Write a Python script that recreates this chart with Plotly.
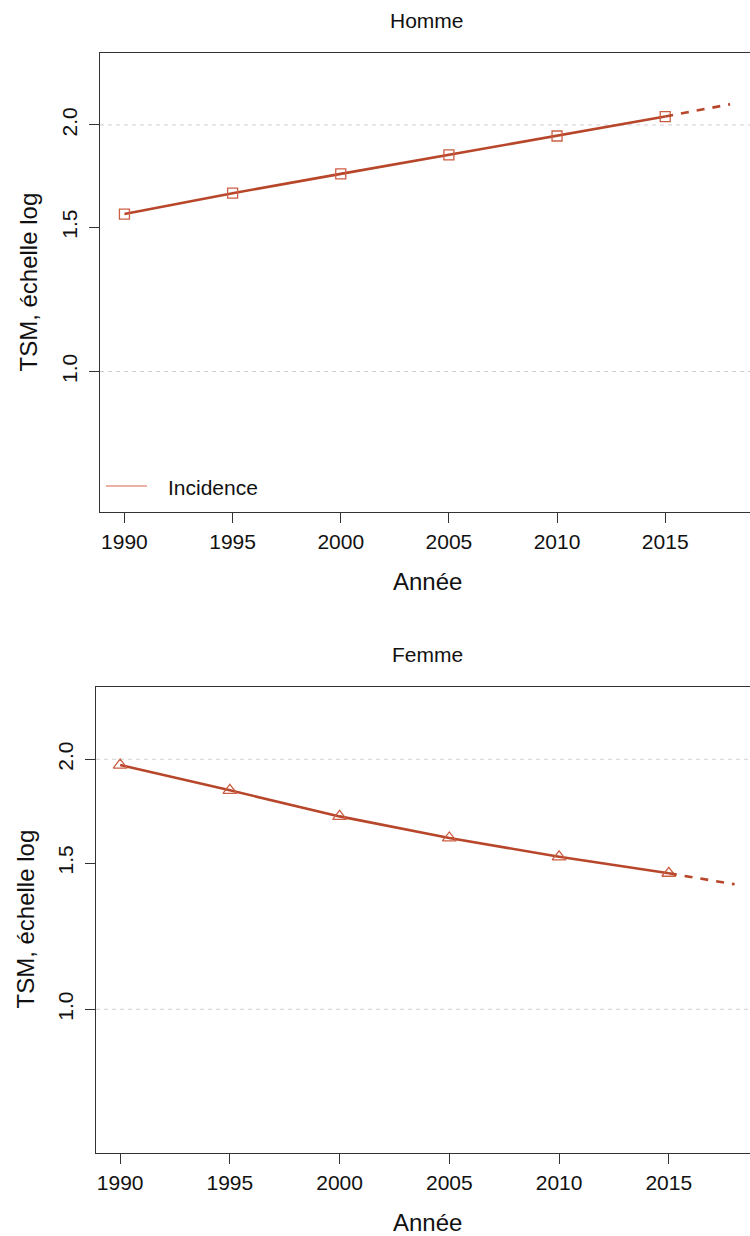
import plotly.graph_objects as go

# ---- data ----
years = [1990, 1995, 2000, 2005, 2010, 2015]
homme_tsm = [1.557, 1.651, 1.743, 1.839, 1.939, 2.048]
femme_tsm = [1.968, 1.835, 1.707, 1.608, 1.526, 1.458]
proj_years = [2015, 2018]
homme_proj = [2.048, 2.120]
femme_proj = [1.458, 1.414]
x_ticks = [1990, 1995, 2000, 2005, 2010, 2015]
y_ticks = [1.0, 1.5, 2.0]
y_ticklabels = ["1.0", "1.5", "2.0"]
grid_levels = [1.0, 2.0]
panel_titles = ["Homme", "Femme"]
x_title = "Année"
y_title = "TSM, échelle log"
legend_label = "Incidence"

W, H = 750, 1236
FONT = "Liberation Sans, Arial, Helvetica, sans-serif"
LINE_COL = "#b7462a"
MARK_COL = "#cc5e44"
LEG_COL = "#d8654a"
AX_COL = "#333333"

def px(x):
    return x / W

def py(y):
    return 1 - y / H

fig = go.Figure()

panels = [
    dict(xa="x", ya="y", vals=homme_tsm, proj=homme_proj, symbol="square-open", msize=10),
    dict(xa="x2", ya="y2", vals=femme_tsm, proj=femme_proj, symbol="triangle-up-open", msize=12),
]

for p in panels:
    fig.add_trace(go.Scatter(
        x=years, y=p["vals"], mode="lines+markers", xaxis=p["xa"], yaxis=p["ya"],
        line=dict(color=LINE_COL, width=2.6),
        marker=dict(symbol=p["symbol"], size=p["msize"], color=MARK_COL, line=dict(width=1.3, color=MARK_COL)),
        showlegend=False, name=legend_label))
    fig.add_trace(go.Scatter(
        x=proj_years, y=p["proj"], mode="lines", xaxis=p["xa"], yaxis=p["ya"],
        line=dict(color=LINE_COL, width=2.6, dash="8px,8px"),
        showlegend=False, name=legend_label + " (projection)"))

axis_common = dict(showgrid=False, zeroline=False, showline=True, linecolor=AX_COL, linewidth=1,
                   ticks="outside", ticklen=10, tickcolor=AX_COL, tickwidth=1,
                   tickfont=dict(family=FONT, size=21, color="#111111"), automargin=False)

fig.update_layout(
    width=W, height=H, margin=dict(l=0, r=0, t=0, b=0),
    paper_bgcolor="white", plot_bgcolor="white", showlegend=False,
    xaxis=dict(domain=[px(100), 1.0], range=[1988.87, 2018.92], tickvals=x_ticks,
               mirror=True, anchor="y", ticklabelstandoff=1, **axis_common),
    yaxis=dict(domain=[py(512), py(53)], type="log", range=[-0.1715, 0.3889],
               tickvals=y_ticks, ticktext=y_ticklabels, tickangle=-90, mirror=False,
               anchor="x", ticklabelstandoff=4, **axis_common),
    xaxis2=dict(domain=[px(96), 1.0], range=[1988.90, 2018.70], tickvals=x_ticks,
                mirror=True, anchor="y2", ticklabelstandoff=1, **axis_common),
    yaxis2=dict(domain=[py(1152.7), py(686.7)], type="log", range=[-0.1727, 0.3884],
                tickvals=y_ticks, ticktext=y_ticklabels, tickangle=-90, mirror=False,
                anchor="x2", ticklabelstandoff=4, **axis_common),
)

# dashed reference lines at 1.0 and 2.0
for xr, yr in [("x domain", "y"), ("x2 domain", "y2")]:
    for g in grid_levels:
        fig.add_shape(type="line", xref=xr, yref=yr, x0=0, x1=1, y0=g, y1=g,
                      line=dict(color="#cfcfcf", width=1, dash="4px,4px"), layer="below")

# manual legend (top panel)
fig.add_shape(type="line", xref="paper", yref="paper", x0=px(106), x1=px(147), y0=py(486), y1=py(486),
              line=dict(color=LEG_COL, width=1.2))
fig.add_annotation(x=px(166), y=py(487), xref="paper", yref="paper", text=legend_label,
                   showarrow=False, xanchor="left", yanchor="middle",
                   font=dict(family=FONT, size=21, color="#111111"))

# titles
title_specs = [
    (panel_titles[0], 427, 21, 21, 0),
    (panel_titles[1], 427, 654, 21, 0),
    (x_title, 427, 581, 24, 0),
    (x_title, 427, 1222, 24, 0),
    (y_title, 28, 282.5, 24, -90),
    (y_title, 25, 919.5, 24, -90),
]
for txt, x, y, size, ang in title_specs:
    fig.add_annotation(x=px(x), y=py(y), xref="paper", yref="paper", text=txt, showarrow=False,
                       xanchor="center", yanchor="middle", textangle=ang,
                       font=dict(family=FONT, size=size, color="#111111"))

fig.write_html("out.html", config={"displayModeBar": False},
               post_script="document.body.style.margin='0';document.body.style.overflow='hidden';")
